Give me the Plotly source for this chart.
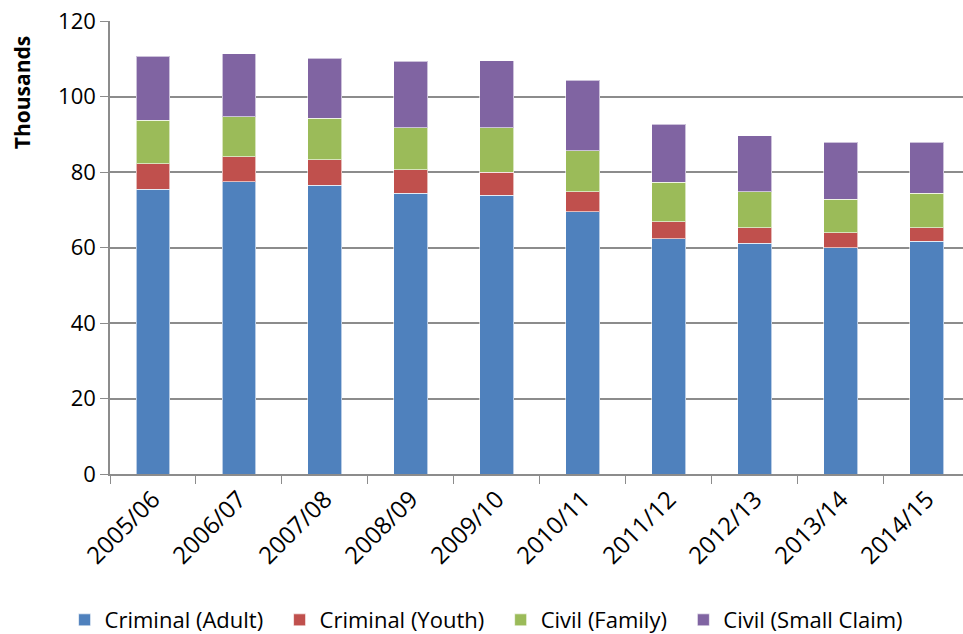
import plotly.graph_objects as go

# Financial years on the category axis
years = ["2005/06", "2006/07", "2007/08", "2008/09", "2009/10",
         "2010/11", "2011/12", "2012/13", "2013/14", "2014/15"]

# Case volumes by type, in thousands
criminal_adult = [75.4, 77.4, 76.5, 74.4, 73.9, 69.5, 62.3, 61.1, 60.0, 61.6]
criminal_youth = [6.8, 6.7, 6.8, 6.2, 6.1, 5.3, 4.5, 4.1, 3.9, 3.6]
civil_family = [11.5, 10.6, 10.9, 11.1, 11.7, 10.8, 10.5, 9.6, 8.9, 9.2]
civil_small_claim = [17.0, 16.6, 16.0, 17.7, 17.8, 18.7, 15.3, 14.8, 15.1, 13.5]

y_ticks = [0, 20, 40, 60, 80, 100, 120]

series = [
    ("Criminal (Adult)", criminal_adult, "#4F81BD"),
    ("Criminal (Youth)", criminal_youth, "#C0504D"),
    ("Civil (Family)", civil_family, "#9BBB59"),
    ("Civil (Small Claim)", civil_small_claim, "#8064A2"),
]

font_family = "Open Sans, Liberation Sans, sans-serif"
legend_pad = "\u00a0" * 2  # extra spacing after each legend entry

fig = go.Figure()
for name, values, color in series:
    fig.add_trace(go.Bar(
        x=years, y=values, name=name + legend_pad,
        marker=dict(color=color, line=dict(color="rgba(255,255,255,0.6)", width=1)),
        width=0.395,
    ))

fig.add_annotation(
    text="<b>Thousands</b>", textangle=-90,
    xref="paper", yref="paper", x=-0.103, y=0.841,
    xanchor="center", yanchor="middle", showarrow=False,
    font=dict(size=21, family=font_family, color="black"),
)

fig.update_layout(
    barmode="stack",
    width=963, height=634,
    margin=dict(l=110, r=0, t=21, b=160, autoexpand=False),
    paper_bgcolor="white", plot_bgcolor="white",
    font=dict(family=font_family, color="black"),
    legend=dict(
        orientation="h", xref="container", yref="container",
        x=0.511, xanchor="center", y=0.022, yanchor="middle",
        font=dict(size=22, family=font_family), traceorder="normal",
        itemwidth=30, itemclick=False,
    ),
    xaxis=dict(
        type="category", range=[-0.5, 9.42], automargin=False,
        tickangle=-45, tickfont=dict(size=24),
        tickson="boundaries", ticks="outside", ticklen=8, tickcolor="#8c8c8c",
        showline=True, linecolor="#8c8c8c", linewidth=1.5,
        showgrid=False,
    ),
    yaxis=dict(
        range=[0, 120], tickvals=y_ticks, ticktext=[str(v) for v in y_ticks],
        tickfont=dict(size=22), automargin=False,
        ticks="outside", ticklen=8, tickcolor="#8c8c8c",
        showline=True, linecolor="#8c8c8c", linewidth=1.5,
        showgrid=True, gridcolor="#8c8c8c", gridwidth=1.5,
        zeroline=False,
    ),
)

fig.write_html("out.html")
